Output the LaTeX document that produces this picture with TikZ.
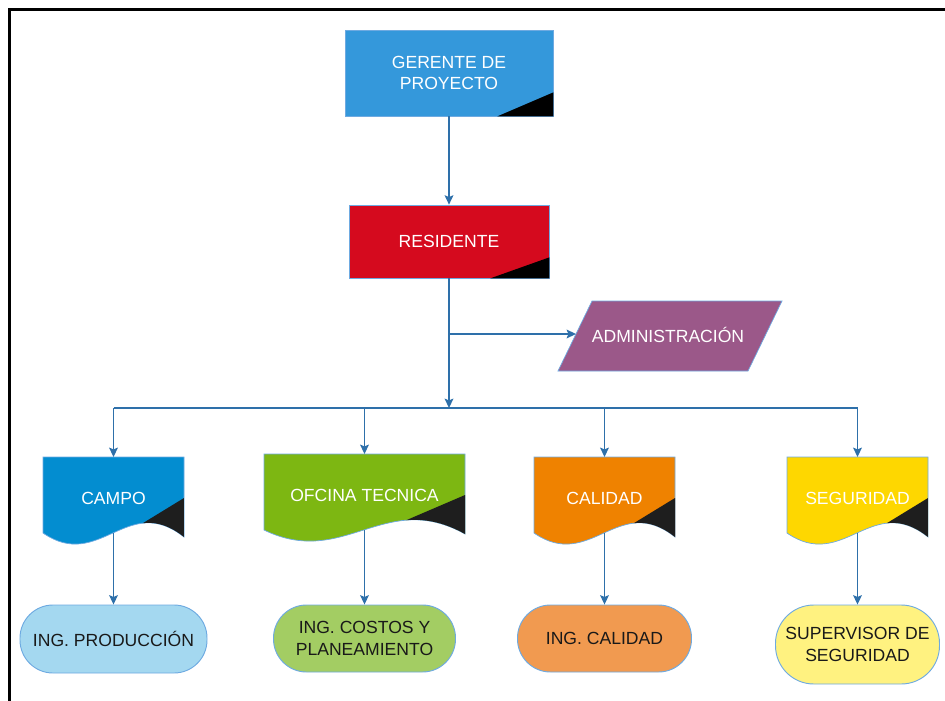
\documentclass[tikz,border=0pt]{standalone}
\usepackage{fontspec}
\setmainfont{Liberation Sans}
\usetikzlibrary{arrows.meta,calc}

\definecolor{linecol}{RGB}{46,112,170}
\definecolor{edgecol}{RGB}{110,170,225}
\definecolor{gercol}{RGB}{52,152,219}
\definecolor{rescol}{RGB}{213,10,30}
\definecolor{admcol}{RGB}{155,88,137}
\definecolor{campocol}{RGB}{3,141,208}
\definecolor{ofccol}{RGB}{125,183,18}
\definecolor{calcol}{RGB}{239,130,0}
\definecolor{segcol}{RGB}{254,215,0}
\definecolor{prodcol}{RGB}{164,216,240}
\definecolor{costcol}{RGB}{163,205,99}
\definecolor{ingcalcol}{RGB}{241,154,80}
\definecolor{supcol}{RGB}{255,242,128}
\definecolor{cornercol}{RGB}{30,30,30}

\tikzset{
  x=0.03cm, y=-0.03cm,
  txt/.style={font=\fontsize{15}{18.5}\selectfont, align=center, inner sep=0pt},
  topbox/.style={txt, rectangle, draw=edgecol, line width=0.6pt, text=white},
  oval/.style={txt, rectangle, rounded corners=0.99cm, draw=edgecol, line width=0.8pt, text=black!90},
  link/.style={draw=linecol, line width=1.1pt},
  flow/.style={link, -{Stealth[length=8pt,width=7.5pt,inset=1.5pt]}},
}

\begin{document}
\begin{tikzpicture}
\useasboundingbox (0,0) rectangle (945,701);

% frame
\draw[line width=1.8pt] (9.5,701) -- (9.5,9.5) -- (945,9.5);

% top of the chart
\node (ger) at (449,73) [topbox, fill=gercol, minimum width=6.24cm, minimum height=2.58cm] {GERENTE DE\\PROYECTO};
\fill (ger.south east) -- ++(-56,0) -- ++(56,-24) -- cycle;

\node (res) at (449,241.5) [topbox, fill=rescol, minimum width=6cm, minimum height=2.19cm] {RESIDENTE};
\fill (res.south east) -- ++(-59,0) -- ++(59,-21) -- cycle;

\draw[draw=edgecol, fill=admcol, line width=0.6pt] (592,301) -- (782,301) -- (748,371) -- (558,371) -- cycle;
\node (adm) at (668,335) [txt, text=white] {ADMINISTRACIÓN};
\coordinate (adm-in) at (576,334);

% document boxes
\foreach \nm/\L/\T/\W/\col/\lbl in {campo/43/457/141/campocol/CAMPO,
    ofc/264/454/201/ofccol/OFCINA TECNICA,
    cal/534/457/141/calcol/CALIDAD,
    seg/787/457/141/segcol/SEGURIDAD} {
  \path[fill=\col, draw=edgecol, line width=0.6pt] (\L,\T) -- ({\L+\W},\T) -- ({\L+\W},{\T+80})
    .. controls ({\L+0.6*\W},{\T+35}) and ({\L+0.4*\W},{\T+115}) .. (\L,{\T+76}) -- cycle;
  \begin{scope}
    \clip (\L,\T) -- ({\L+\W},\T) -- ({\L+\W},{\T+80})
      .. controls ({\L+0.6*\W},{\T+35}) and ({\L+0.4*\W},{\T+115}) .. (\L,{\T+76}) -- cycle;
    \fill[cornercol] ({\L+0.6*\W},{\T+75.5}) -- ({\L+\W},{\T+41}) -- ({\L+\W},{\T+120}) -- ({\L+0.6*\W},{\T+120}) -- cycle;
  \end{scope}
  \node (\nm) at ({\L+\W/2},{\T+41}) [txt, text=white] {\lbl};
  \coordinate (\nm-t) at ({\L+\W/2},\T);
  \coordinate (\nm-b) at ({\L+\W/2},{\T+76});
}

% bottom row
\node (prod) at (113.5,639) [oval, fill=prodcol, minimum width=5.61cm, minimum height=2.04cm] {ING. PRODUCCIÓN};
\node (cost) at (364.5,638.5) [oval, fill=costcol, minimum width=5.46cm, minimum height=2.01cm] {ING. COSTOS Y\\PLANEAMIENTO};
\node (ingcal) at (604.5,638.5) [oval, fill=ingcalcol, minimum width=5.22cm, minimum height=2.01cm] {ING. CALIDAD};
\node (sup) at (857.5,644.5) [oval, fill=supcol, minimum width=4.92cm, minimum height=2.37cm, rounded corners=1.15cm] {SUPERVISOR DE\\SEGURIDAD};

% connectors
\coordinate (bus) at (449,408);
\draw[flow] (ger) -- (res);
\draw[flow] (res.south) -- (bus);
\draw[flow] (res.south |- adm-in) -- (adm-in);
\draw[link] (campo-t |- bus) -- (seg-t |- bus);
\foreach \nm in {campo,ofc,cal,seg}
  \draw[flow] (\nm-t |- bus) -- (\nm-t);
\draw[flow] (campo-b) -- (campo-b |- prod.north);
\draw[flow] (ofc-b) -- (ofc-b |- cost.north);
\draw[flow] (cal-b) -- (cal-b |- ingcal.north);
\draw[flow] (seg-b) -- (seg-b |- sup.north);

\end{tikzpicture}
\end{document}
